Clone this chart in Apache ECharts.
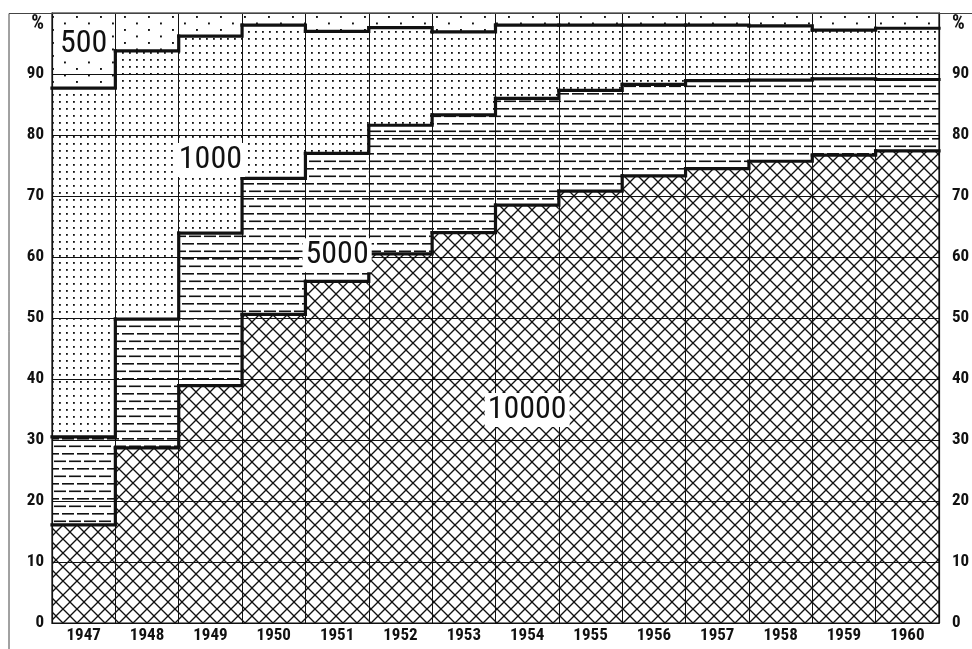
<!DOCTYPE html>
<html><head><meta charset="utf-8">
<script src="https://cdn.jsdelivr.net/npm/echarts/dist/echarts.min.js"></script>
<style>html,body{margin:0;padding:0;background:#fff}#c{width:972px;height:649px}</style>
</head><body><div id="c"></div>
<script>
// ---- data (cumulative upper boundary of each layer, %) ----
const years = ['1947','1948','1949','1950','1951','1952','1953','1954','1955','1956','1957','1958','1959','1960'];
const top10000 = [16.1, 28.7, 38.9, 50.6, 56.0, 60.5, 64.0, 68.5, 70.8, 73.3, 74.5, 75.7, 76.7, 77.4];
const top5000  = [30.5, 49.8, 63.9, 72.9, 77.0, 81.6, 83.3, 86.0, 87.3, 88.3, 88.9, 89.0, 89.2, 89.1];
const top1000  = [87.7, 93.8, 96.2, 98.0, 97.0, 97.6, 96.9, 98.0, 98.0, 98.0, 98.0, 97.9, 97.2, 97.5];
const top500   = [100, 100, 100, 100, 100, 100, 100, 100, 100, 100, 100, 100, 100, 100];
const yTicks = [0, 10, 20, 30, 40, 50, 60, 70, 80, 90, 100];
const layerNames  = ['500', '1000', '5000', '10000'];
const layerYears  = ['1947', '1949', '1951', '1954'];
const layerLabelY = [94.9, 75.9, 60.3, 34.9];

const FONT = "'Roboto Condensed','Open Sans Condensed','DejaVu Sans Condensed',sans-serif";
const INK = '#111';

function makeTile(w, h, draw) {
  const c = document.createElement('canvas');
  c.width = w; c.height = h;
  const g = c.getContext('2d');
  g.fillStyle = '#fff'; g.fillRect(0, 0, w, h);
  g.fillStyle = INK; g.strokeStyle = INK;
  draw(g);
  return { image: c, repeat: 'repeat' };
}
const patCross = makeTile(14, 14, g => {
  g.lineWidth = 1.3;
  for (const k of [-14, 0, 14]) {
    g.beginPath(); g.moveTo(k, 0); g.lineTo(k + 14, 14); g.stroke();
    g.beginPath(); g.moveTo(k + 14, 0); g.lineTo(k, 14); g.stroke();
  }
});
const patDash = makeTile(30, 15, g => {
  g.fillRect(2, 3, 12, 1.6); g.fillRect(17, 3, 12, 1.6);
  g.fillRect(9, 10.5, 12, 1.6); g.fillRect(24, 10.5, 6, 1.6); g.fillRect(0, 10.5, 6, 1.6);
});
const patDot = makeTile(7, 7, g => { g.fillRect(3, 3, 1.8, 1.8); });
const patSparse = makeTile(24, 13, g => { g.fillRect(4, 3, 1.9, 1.9); g.fillRect(16, 9.5, 1.9, 1.9); });

function barLayer(vals, pat) {
  return { type: 'bar', data: vals, barGap: '-100%', barCategoryGap: '0%', silent: true,
           itemStyle: { color: pat, borderWidth: 0 }, z: 2, animation: false };
}
function stepLine(vals) {
  const n = vals.length;
  return {
    type: 'custom', z: 5, silent: true, animation: false, clip: false,
    data: vals.map((v, i) => [i, v, i < n - 1 ? vals[i + 1] : v]),
    encode: { x: 0, y: 1 },
    renderItem(params, api) {
      const i = api.value(0), v = api.value(1), vn = api.value(2);
      const p = api.coord([i, v]);
      const pn = api.coord([i, vn]);
      const w = api.size([1, 0])[0];
      const L = p[0] - w / 2, R = p[0] + w / 2;
      const pts = [[L, p[1]], [R, p[1]]];
      if (params.dataIndex < n - 1) pts.push([R, pn[1]]);
      return { type: 'polyline', shape: { points: pts },
               style: { stroke: INK, lineWidth: 3.2, fill: null, lineJoin: 'miter', lineCap: 'square' } };
    }
  };
}

const chart = echarts.init(document.getElementById('c'), null, { renderer: 'canvas' });
const yLabelFmt = v => (v === 100 ? '{p|%}' : String(v));
const yRich = { p: { padding: [22, 0, 0, 0], fontSize: 20, fontWeight: 'bold', fontFamily: FONT, color: INK } };
const tickFont = { fontSize: 17, fontWeight: 'bold', fontFamily: FONT, color: INK };
chart.setOption({
  animation: false,
  backgroundColor: '#fff',
  grid: { left: 52, right: 33, top: 13, bottom: 26, show: true, borderColor: INK, borderWidth: 1.2,
          backgroundColor: 'transparent', z: 4, outerBoundsMode: 'none', containLabel: false },
  xAxis: {
    type: 'category', data: years, z: 4,
    axisLine: { show: true, lineStyle: { color: INK, width: 1.2 } },
    axisTick: { show: false },
    axisLabel: Object.assign({ interval: 0, margin: 4 }, tickFont),
    splitLine: { show: true, interval: 0, lineStyle: { color: INK, width: 1 } }
  },
  yAxis: [
    { type: 'value', min: 0, max: 100, interval: 10, z: 4, position: 'left',
      axisLine: { show: true, lineStyle: { color: INK, width: 1.2 } }, axisTick: { show: false },
      axisLabel: Object.assign({ margin: 8, formatter: yLabelFmt, rich: yRich, customValues: yTicks }, tickFont),
      splitLine: { show: true, lineStyle: { color: INK, width: 1 } } },
    { type: 'value', min: 0, max: 100, interval: 10, z: 4, position: 'right',
      axisLine: { show: true, lineStyle: { color: INK, width: 1.2 } }, axisTick: { show: false },
      axisLabel: Object.assign({ margin: 13, formatter: yLabelFmt, rich: yRich, customValues: yTicks }, tickFont),
      splitLine: { show: false } }
  ],
  graphic: [
    { type: 'polyline', silent: true, z: 10,
      shape: { points: [[9, 649], [9, 13.5], [972, 13.5]] },
      style: { stroke: '#444', lineWidth: 1, fill: null } }
  ],
  series: [
    barLayer(top500, patSparse),
    barLayer(top1000, patDot),
    barLayer(top5000, patDash),
    barLayer(top10000, patCross),
    stepLine(top10000),
    stepLine(top5000),
    stepLine(top1000),
    { type: 'scatter', z: 8, silent: true, animation: false, symbolSize: 0,
      itemStyle: { opacity: 1 },
      data: layerNames.map((nm, k) => [layerYears[k], layerLabelY[k], nm]),
      label: { show: true, position: 'inside', formatter: p => p.value[2], fontSize: 32, fontFamily: FONT,
               color: INK, opacity: 1, backgroundColor: '#fff', padding: [2, 3, 0, 3] } }
  ]
});
</script></body></html>
